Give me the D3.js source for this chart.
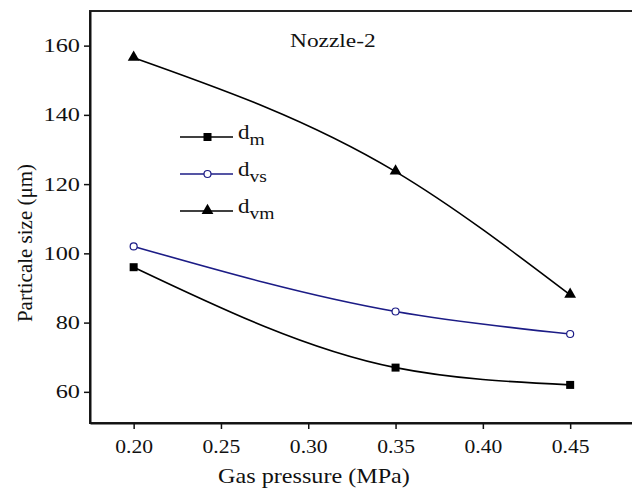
<!DOCTYPE html>
<html>
<head>
<meta charset="utf-8">
<script src="https://d3js.org/d3.v7.min.js"></script>
<style>
    body { margin: 0; background: #fff; }
    text { font-family: "Liberation Serif", "Times New Roman", serif; fill: #111; }
</style>
</head>
<body>
<script type="text/javascript">

// Data
var pressure = [0.20, 0.35, 0.45];
var d_m  = [96, 67, 62];
var d_vs = [102, 83.2, 76.7];
var d_vm = [156.5, 123.6, 88];

var xTicks = [0.20, 0.25, 0.30, 0.35, 0.40, 0.45];
var yTicks = [60, 80, 100, 120, 140, 160];

var seriesNames = ["m", "vs", "vm"];

var w = 632, h = 490;
var margin = {top: 11, left: 90, bottom: 67};

var x = d3.scaleLinear()
    .domain([0.175, 0.49])
    .range([margin.left, 640]);

var y = d3.scaleLinear()
    .domain([51, 170])
    .range([h - margin.bottom, margin.top]);

var svg = d3.select("body").append("svg")
    .attr("width", w)
    .attr("height", h);

// widen text horizontally (the source image is a bit stretched)
function stretch(sel, f) {
    sel.each(function() {
        var len = this.getComputedTextLength();
        d3.select(this).attr("textLength", len * f).attr("lengthAdjust", "spacingAndGlyphs");
    });
}

// frame
svg.append("rect")
    .attr("x", x.range()[0])
    .attr("y", y.range()[1])
    .attr("width", x.range()[1] - x.range()[0])
    .attr("height", y.range()[0] - y.range()[1])
    .attr("fill", "none")
    .attr("stroke", "#222")
    .attr("stroke-width", 2);

// axes
var xAxis = svg.append("g")
    .attr("transform", "translate(0," + y.range()[0] + ")")
    .call(d3.axisBottom(x).tickValues(xTicks).tickFormat(d3.format(".2f")).tickSize(6).tickSizeOuter(0));

var yAxis = svg.append("g")
    .attr("transform", "translate(" + x.range()[0] + ",0)")
    .call(d3.axisLeft(y).tickValues(yTicks).tickSize(6).tickSizeOuter(0));

[xAxis, yAxis].forEach(function(g) {
    g.select(".domain").attr("stroke", "#111").attr("stroke-width", 2);
    g.selectAll(".tick line").attr("stroke", "#111").attr("stroke-width", 1.5);
    g.selectAll(".tick text")
        .attr("font-family", "Liberation Serif")
        .attr("font-size", 18)
        .attr("fill", "#111");
});
xAxis.selectAll(".tick text").attr("dy", "1.15em");
stretch(xAxis.selectAll(".tick text"), 1.2);
yAxis.selectAll(".tick text").attr("x", -10).attr("dy", "0.34em");
stretch(yAxis.selectAll(".tick text"), 1.35);

// axis titles
svg.append("text")
    .attr("x", 314)
    .attr("y", 483)
    .attr("text-anchor", "middle")
    .attr("font-size", 21)
    .text("Gas pressure (MPa)")
    .call(stretch, 1.15);

svg.append("text")
    .attr("transform", "translate(32,243) rotate(-90)")
    .attr("text-anchor", "middle")
    .attr("font-size", 21)
    .text("Particale size (\u03bcm)");

svg.append("text")
    .attr("x", 290)
    .attr("y", 47)
    .attr("font-size", 18)
    .text("Nozzle-2")
    .call(stretch, 1.3);

// lines
var line = d3.line()
    .x(function(d, i) { return x(pressure[i]); })
    .y(function(d) { return y(d); })
    .curve(d3.curveMonotoneX);

var colors = {m: "#000", vs: "#1c1c86", vm: "#000"};
var allSeries = {m: d_m, vs: d_vs, vm: d_vm};

seriesNames.forEach(function(k) {
    svg.append("path")
        .datum(allSeries[k])
        .attr("fill", "none")
        .attr("stroke", colors[k])
        .attr("stroke-width", 1.6)
        .attr("d", line);
});

function marker(g, k, cx, cy) {
    if (k === "m") {
        g.append("rect").attr("x", cx - 4).attr("y", cy - 4).attr("width", 8).attr("height", 8).attr("fill", "#000");
    } else if (k === "vs") {
        g.append("circle").attr("cx", cx).attr("cy", cy).attr("r", 3.5)
            .attr("fill", "#fff").attr("stroke", colors.vs).attr("stroke-width", 1.2);
    } else {
        g.append("path")
            .attr("d", d3.symbol().type(d3.symbolTriangle).size(60))
            .attr("transform", "translate(" + cx + "," + (cy - 0.5) + ")")
            .attr("fill", "#000");
    }
}

var markers = svg.append("g");
seriesNames.forEach(function(k) {
    allSeries[k].forEach(function(v, i) {
        marker(markers, k, x(pressure[i]), y(v));
    });
});

// legend
var legend = svg.append("g");
var legendY = [137, 174, 211];
seriesNames.forEach(function(k, i) {
    legend.append("line")
        .attr("x1", 180).attr("x2", 233)
        .attr("y1", legendY[i]).attr("y2", legendY[i])
        .attr("stroke", colors[k]).attr("stroke-width", 1.6);
    marker(legend, k, 207.5, legendY[i]);
    var t = legend.append("text")
        .attr("x", 238)
        .attr("y", legendY[i] + 2)
        .attr("font-size", 20);
    t.append("tspan").text("d");
    t.append("tspan").attr("dy", 6).attr("font-size", 17).text(k);
    stretch(t, 1.15);
});

</script>
</body>
</html>
